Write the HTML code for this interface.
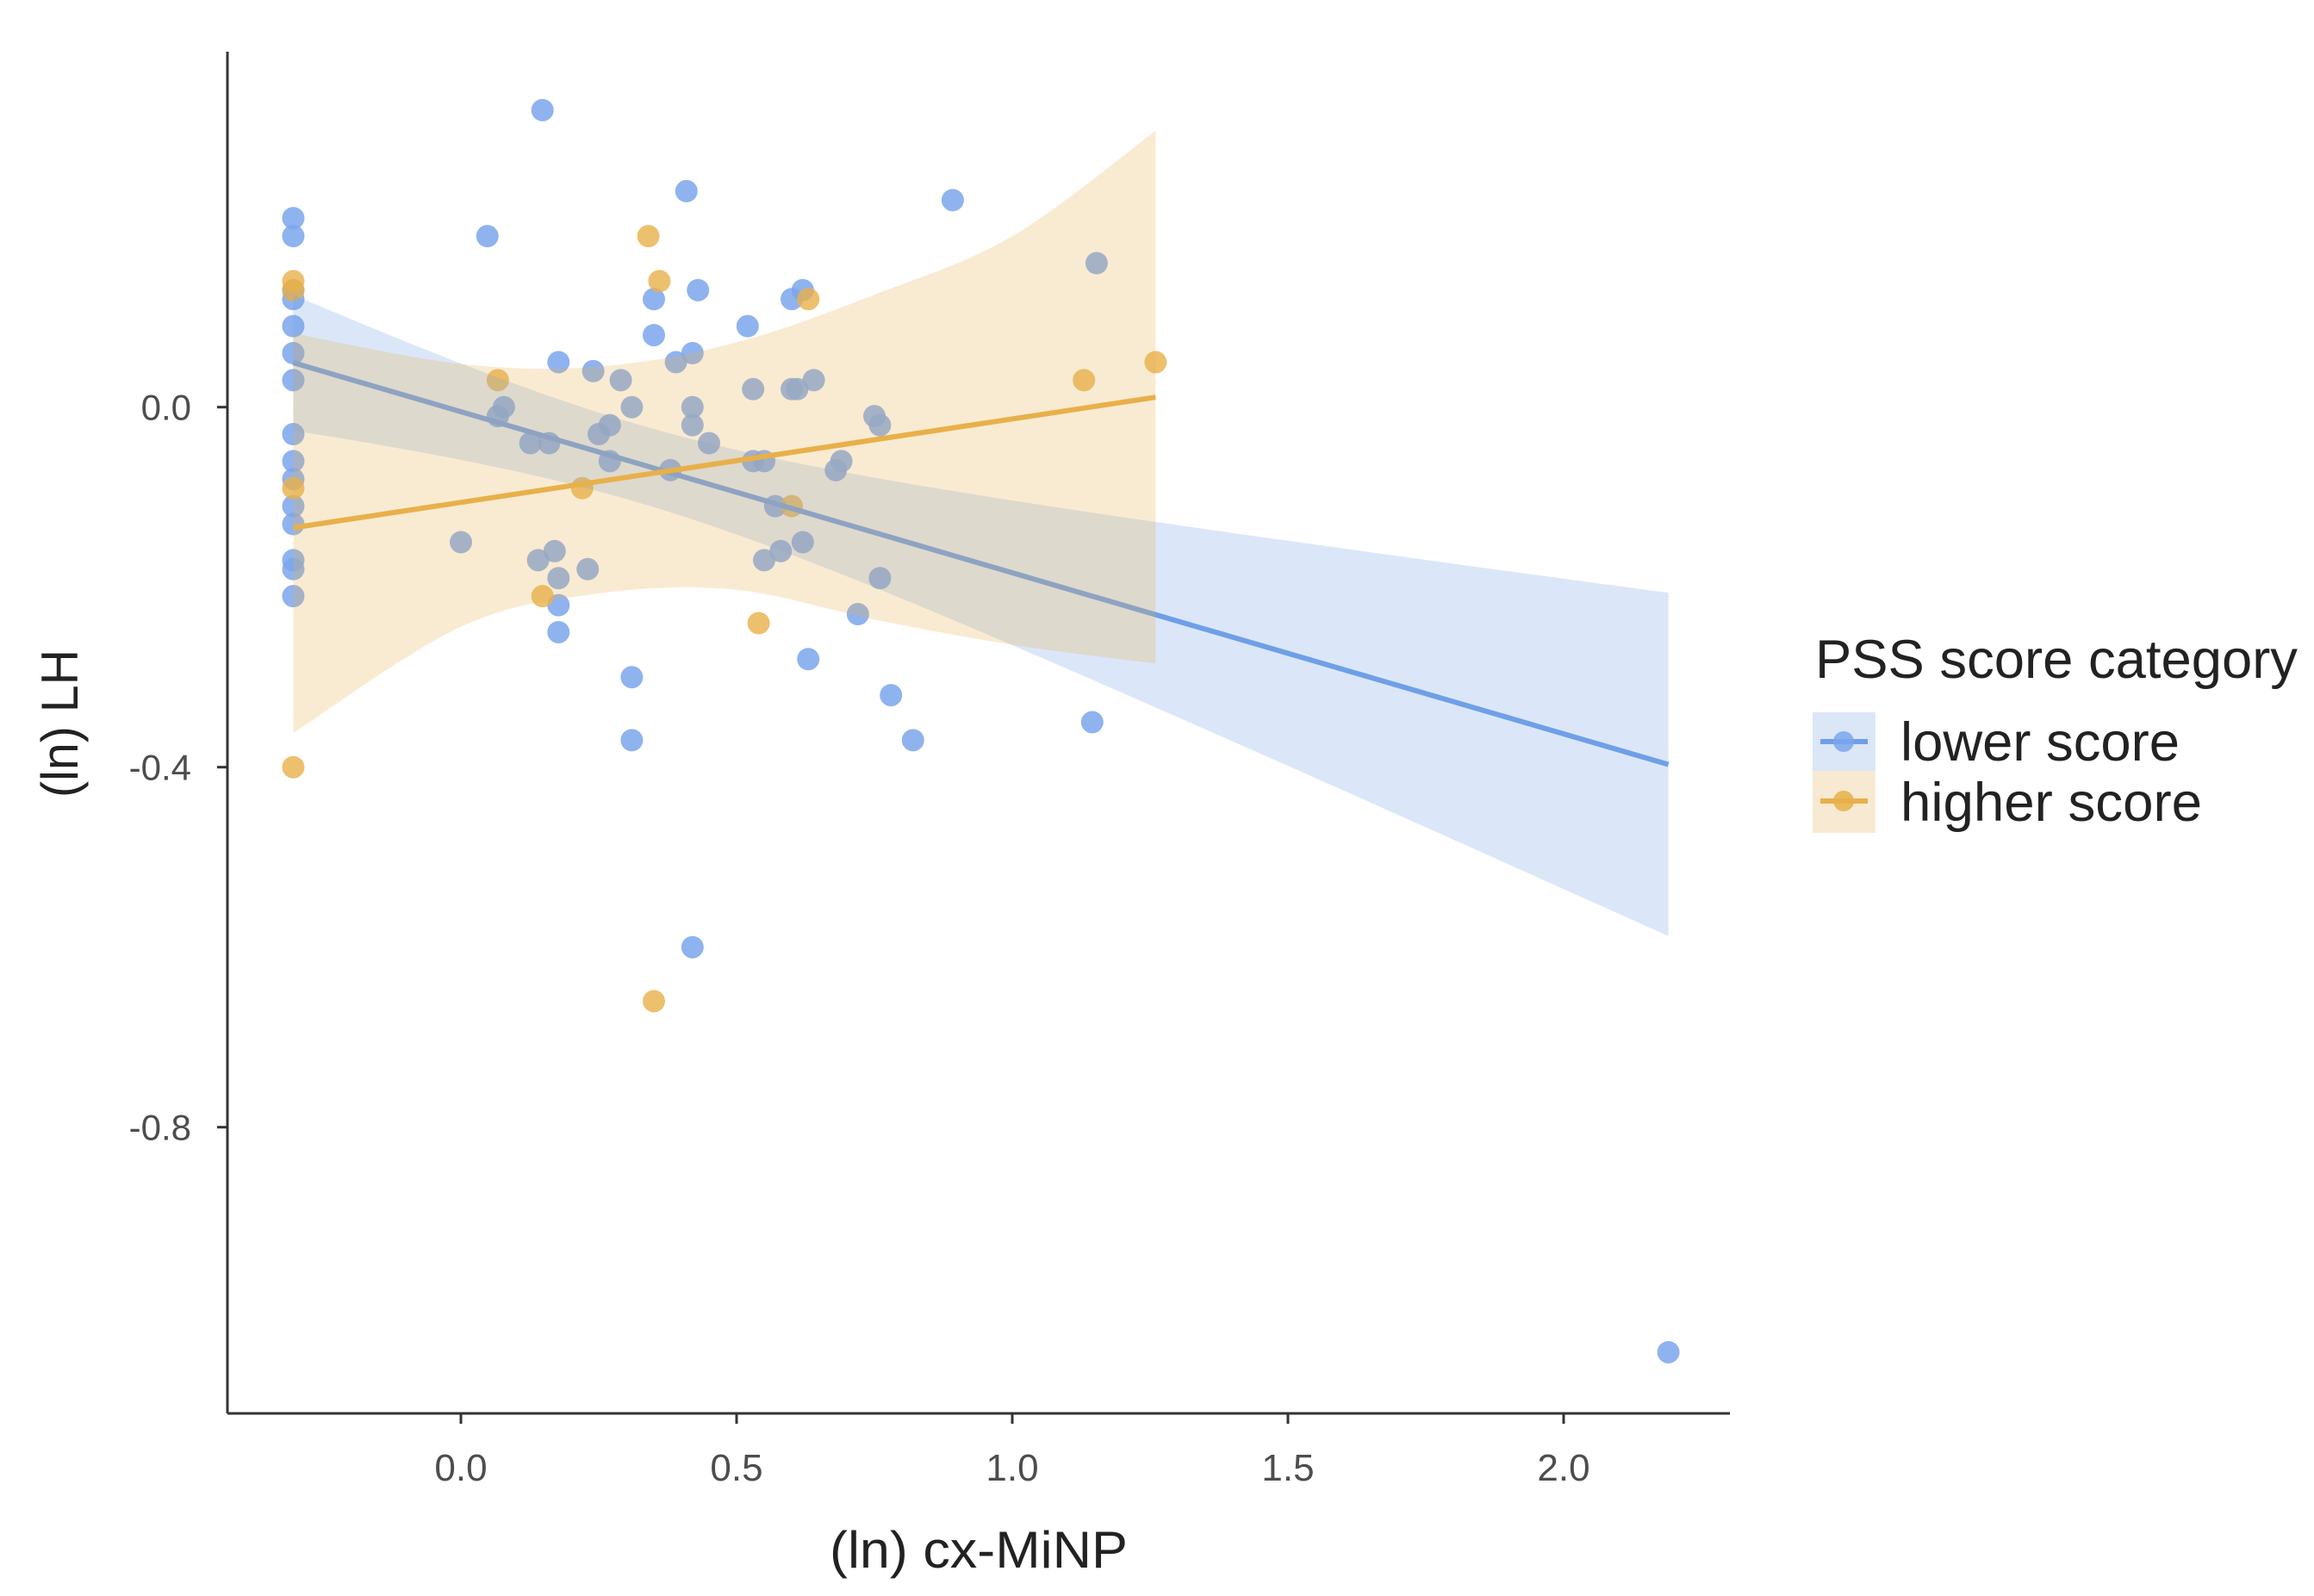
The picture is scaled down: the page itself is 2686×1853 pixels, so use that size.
<!DOCTYPE html>
<html><head><meta charset="utf-8"><style>
html,body{margin:0;padding:0;background:#fff;}
svg{display:block;}
text{font-family:"Liberation Sans",sans-serif;}
</style></head><body>
<svg id="chart" width="2686" height="1853" viewBox="0 0 2686 1853" xmlns="http://www.w3.org/2000/svg">
<g id="plot"></g>
<g id="axes"></g>
<text x="1136" y="1820" font-size="60" fill="#222" text-anchor="middle" textLength="346" lengthAdjust="spacingAndGlyphs">(ln) cx-MiNP</text>
<text x="0" y="0" font-size="60" fill="#222" text-anchor="middle" transform="translate(90,840) rotate(-90)" textLength="172" lengthAdjust="spacingAndGlyphs">(ln) LH</text>
<g>
<text x="2107" y="787" font-size="63" fill="#222" textLength="560" lengthAdjust="spacingAndGlyphs">PSS score category</text>
<g>
<rect x="2104" y="827" width="73" height="68" fill="#dbe6f7"/>
<line x1="2113" y1="861" x2="2168" y2="861" stroke="#6f9fe8" stroke-width="6"/>
<circle cx="2140" cy="861" r="12" fill="#7ba6ec" opacity="0.85"/>
<text x="2206" y="883" font-size="63" fill="#222" textLength="324" lengthAdjust="spacingAndGlyphs">lower score</text>
</g>
<g>
<rect x="2104" y="895" width="73" height="72" fill="#f8ead2"/>
<line x1="2113" y1="930" x2="2168" y2="930" stroke="#e8b04a" stroke-width="6"/>
<circle cx="2140" cy="930" r="12" fill="#e8b04a" opacity="0.85"/>
<text x="2206" y="953" font-size="63" fill="#222" textLength="350" lengthAdjust="spacingAndGlyphs">higher score</text>
</g>
</g>
</svg>
<script>
const lowerX = [-0.304,-0.304,-0.304,-0.304,-0.304,-0.304,-0.304,-0.304,-0.304,-0.304,-0.304,-0.304,-0.304,-0.304,-0.304,
0.148,0.048,0.409,0.892,1.153,0.35,0.43,0.62,0.6,0.35,0.52,0.177,0.39,0.42,0.24,0.29,0.64,0.53,0.6,0.61,0.078,0.067,0.31,0.42,0.42,0.75,0.76,0.27,0.25,0.126,0.16,0.45,0.27,0.53,0.55,0.69,0.68,0.38,0.57,0.0,0.62,0.17,0.58,0.14,0.55,0.23,0.177,0.76,0.177,0.72,0.177,0.63,0.31,0.78,1.145,0.31,0.82,0.42,2.19];
const lowerY = [0.21,0.19,0.13,0.12,0.09,0.06,0.03,-0.03,-0.06,-0.08,-0.11,-0.13,-0.17,-0.18,-0.21,
0.33,0.19,0.24,0.23,0.16,0.12,0.13,0.13,0.12,0.08,0.09,0.05,0.05,0.06,0.04,0.03,0.03,0.02,0.02,0.02,0.0,-0.01,0.0,0.0,-0.02,-0.01,-0.02,-0.02,-0.03,-0.04,-0.04,-0.04,-0.06,-0.06,-0.06,-0.06,-0.07,-0.07,-0.11,-0.15,-0.15,-0.16,-0.16,-0.17,-0.17,-0.18,-0.19,-0.19,-0.22,-0.23,-0.25,-0.28,-0.30,-0.32,-0.35,-0.37,-0.37,-0.60,-1.05];
const higherX = [-0.304,-0.304,-0.304,-0.304,0.34,0.36,0.63,0.067,1.13,1.26,0.22,0.6,0.148,0.54,0.35];
const higherY = [0.14,0.13,-0.09,-0.40,0.19,0.14,0.12,0.03,0.03,0.05,-0.09,-0.11,-0.21,-0.24,-0.66];
// higher-score fitted line and confidence band
const higherFitX = [-0.304, 1.26];
const higherFitY = [-0.134, 0.011];
const higherBandX = [-0.304, 0.0, 0.25, 0.5, 0.75, 1.0, 1.26];
const higherBandUpper = [0.082, 0.048, 0.045, 0.072, 0.125, 0.19, 0.307];
const higherBandLower = [-0.362, -0.244, -0.207, -0.203, -0.236, -0.264, -0.285];
const xTicks = [0.0,0.5,1.0,1.5,2.0];
const xTickLabels = ["0.0","0.5","1.0","1.5","2.0"];
const yTicks = [0.0,-0.4,-0.8];
const yTickLabels = ["0.0","-0.4","-0.8"];

const X0=535, XS=640, Y0=472.7, YS=1045;
const L=264, R=2008, T=60, B=1641;
function sx(v){return X0+v*XS;}
function sy(v){return Y0-v*YS;}
const NS='http://www.w3.org/2000/svg';
function mk(tag,attrs,parent){const e=document.createElementNS(NS,tag);for(const k in attrs)e.setAttribute(k,attrs[k]);parent.appendChild(e);return e;}
const plot=document.getElementById('plot'), axes=document.getElementById('axes');

function fit(xs,ys){
  const n=xs.length;let mx=0,my=0;for(let i=0;i<n;i++){mx+=xs[i];my+=ys[i];}mx/=n;my/=n;
  let sxx=0,sxy=0;for(let i=0;i<n;i++){sxx+=(xs[i]-mx)**2;sxy+=(xs[i]-mx)*(ys[i]-my);}
  const b=sxy/sxx,a=my-b*mx;let sse=0;for(let i=0;i<n;i++)sse+=(ys[i]-a-b*xs[i])**2;
  const s=Math.sqrt(sse/(n-2));const t=n>30?2.0:2.16;
  return {a,b,mx,sxx,n,s,t,min:Math.min(...xs),max:Math.max(...xs)};
}
function band(f){
  const up=[],lo=[];const N=60;
  for(let i=0;i<=N;i++){const x=f.min+(f.max-f.min)*i/N;const y=f.a+f.b*x;
    const se=f.s*Math.sqrt(1/f.n+(x-f.mx)**2/f.sxx);
    up.push(sx(x).toFixed(1)+','+sy(y+f.t*se).toFixed(1));lo.unshift(sx(x).toFixed(1)+','+sy(y-f.t*se).toFixed(1));}
  return up.concat(lo).join(' ');
}
// smooth path through band arrays
function smoothPts(xs,ys){
  const P=xs.map((x,i)=>[sx(x),sy(ys[i])]);
  let d='';
  for(let i=0;i<P.length-1;i++){
    const p0=P[Math.max(0,i-1)],p1=P[i],p2=P[i+1],p3=P[Math.min(P.length-1,i+2)];
    const c1=[p1[0]+(p2[0]-p0[0])/6,p1[1]+(p2[1]-p0[1])/6];
    const c2=[p2[0]-(p3[0]-p1[0])/6,p2[1]-(p3[1]-p1[1])/6];
    d+=(i===0?'':'')+' C'+c1.join(',')+' '+c2.join(',')+' '+p2.join(',');
  }
  return {start:P[0],d};
}
for(let i=0;i<lowerX.length;i++){
  const c=mk('circle',{cx:sx(lowerX[i]),cy:sy(lowerY[i]),r:13,fill:'#7ba6ec','fill-opacity':0.85},plot);
  
  
}
for(let i=0;i<higherX.length;i++){
  const c=mk('circle',{cx:sx(higherX[i]),cy:sy(higherY[i]),r:13,fill:'#e8b04a','fill-opacity':0.8},plot);
  
  
}
const fl=fit(lowerX,lowerY);
const bl=mk('polygon',{points:band(fl),fill:'#6f9fe8','fill-opacity':0.25},plot);


const ll=mk('line',{x1:sx(fl.min),y1:sy(fl.a+fl.b*fl.min),x2:sx(fl.max),y2:sy(fl.a+fl.b*fl.max),stroke:'#6f9fe8','stroke-width':6},plot);


const up=smoothPts(higherBandX,higherBandUpper);
const loRevX=higherBandX.slice().reverse(), loRevY=higherBandLower.slice().reverse();
const lo=smoothPts(loRevX,loRevY);
const bh=mk('path',{d:'M'+up.start.join(',')+up.d+' L'+lo.start.join(',')+lo.d+' Z',fill:'#e8b04a','fill-opacity':0.25},plot);


const lh=mk('line',{x1:sx(higherFitX[0]),y1:sy(higherFitY[0]),x2:sx(higherFitX[1]),y2:sy(higherFitY[1]),stroke:'#e8b04a','stroke-width':6},plot);


const xa=mk('line',{x1:L,y1:B,x2:R,y2:B,stroke:'#333','stroke-width':3},axes);


const ya=mk('line',{x1:L,y1:T,x2:L,y2:B,stroke:'#333','stroke-width':3},axes);


xTicks.forEach((v,i)=>{
  mk('line',{x1:sx(v),y1:B,x2:sx(v),y2:B+12,stroke:'#333','stroke-width':3},axes);
  const t=mk('text',{x:sx(v),y:B+78,'font-size':44,fill:'#4d4d4d','text-anchor':'middle'},axes);
  t.textContent=xTickLabels[i];
  
  
});
yTicks.forEach((v,i)=>{
  mk('line',{x1:L-12,y1:sy(v),x2:L,y2:sy(v),stroke:'#333','stroke-width':3},axes);
  const t=mk('text',{x:L-42,y:sy(v)+15,'font-size':42,fill:'#4d4d4d','text-anchor':'end'},axes);
  t.textContent=yTickLabels[i];
  
  
});
</script>
</body></html>
